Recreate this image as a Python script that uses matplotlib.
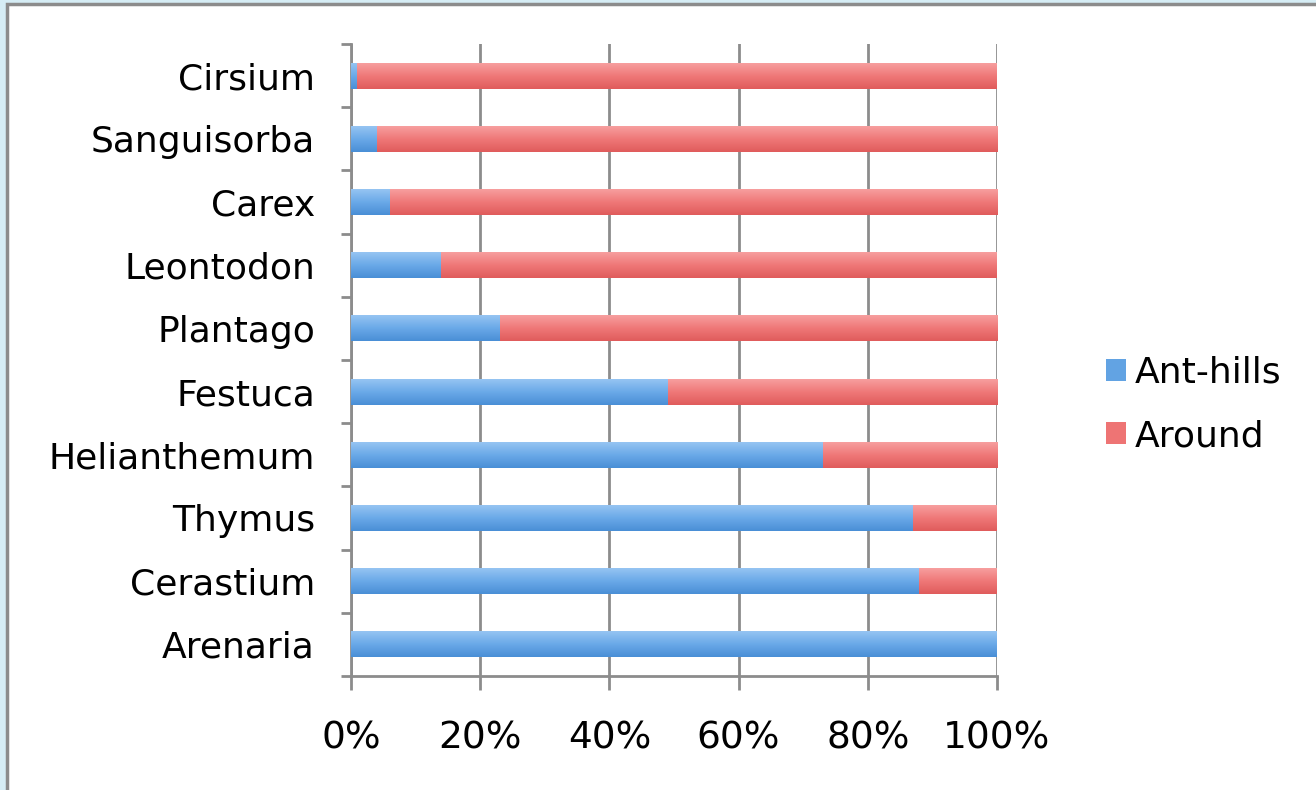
import matplotlib
matplotlib.use("Agg")
import matplotlib.pyplot as plt
from matplotlib.patches import Rectangle
from matplotlib.colors import LinearSegmentedColormap
import numpy as np

# Species, listed bottom to top
species = ["Arenaria", "Cerastium", "Thymus", "Helianthemum", "Festuca",
           "Plantago", "Leontodon", "Carex", "Sanguisorba", "Cirsium"]
ant_hills = [100, 88, 87, 73, 49, 23, 14, 6, 4, 1]
around = [0, 12, 13, 27, 51, 77, 86, 94, 96, 99]
x_ticks = [0, 20, 40, 60, 80, 100]
x_labels = ["0%", "20%", "40%", "60%", "80%", "100%"]

blue = "#62a3e3"
red = "#ee7474"
grey = "#8c8c8c"

plt.rcParams["font.family"] = ["DejaVu Sans"]

fig = plt.figure(figsize=(13.16, 7.9), dpi=100)
fig.patch.set_facecolor("#d6edf5")

# white panel with grey frame (top-left corner visible)
fig.patches.append(Rectangle((7 / 1316, -0.1), 1.2, 1 - 4 / 790 + 0.1,
                             transform=fig.transFigure, facecolor="white",
                             edgecolor=grey, linewidth=2.5, zorder=-10))

ax = fig.add_axes([351 / 1316, 1 - 676 / 790, 646 / 1316, 632 / 790])
ax.set_zorder(1)
ax.set_facecolor("white")

y = np.arange(len(species))
b1 = ax.barh(y, ant_hills, height=0.41, color=blue, label="Ant-hills", zorder=3)
b2 = ax.barh(y, around, left=ant_hills, height=0.41, color=red, label="Around", zorder=3)

# soft vertical gradient on the bars (light on top, darker at the bottom)
grad = np.linspace(0, 1, 50).reshape(-1, 1)
cm_blue = LinearSegmentedColormap.from_list("b", ["#4a8fd6", "#6aa9e8", "#95c4f2"])
cm_red = LinearSegmentedColormap.from_list("r", ["#e05c5c", "#ef7878", "#f79e9e"])
for bars, cm in [(b1, cm_blue), (b2, cm_red)]:
    for p in bars:
        if p.get_width() <= 0:
            continue
        x0, y0 = p.get_x(), p.get_y()
        im = ax.imshow(grad, cmap=cm, aspect="auto", origin="lower", zorder=3.5,
                       extent=(x0, x0 + p.get_width(), y0, y0 + p.get_height()))
        im.set_clip_path(p)

ax.set_xlim(0, 100)
ax.set_ylim(-0.5, len(species) - 0.5)

ax.set_xticks(x_ticks)
ax.set_xticklabels(x_labels)
ax.set_yticks(y)
ax.set_yticklabels(species)
ax.set_yticks(np.arange(-0.5, len(species), 1), minor=True)

ax.tick_params(axis="y", which="major", length=0, pad=26, labelsize=26)
ax.tick_params(axis="y", which="minor", length=7, width=2, color=grey, direction="out")
ax.tick_params(axis="x", length=10, width=2, color=grey, direction="out", pad=22, labelsize=27)

ax.grid(axis="x", color=grey, linewidth=2, zorder=0)
for s in ["top", "right"]:
    ax.spines[s].set_visible(False)
for s in ["left", "bottom"]:
    ax.spines[s].set_color(grey)
    ax.spines[s].set_linewidth(2)

ax.legend(loc="center left", bbox_to_anchor=(1.118, 0.43), frameon=False,
          fontsize=26, handlelength=0.55, handleheight=0.55, handletextpad=0.25,
          labelspacing=0.82)

fig.savefig("out.png", dpi=100, facecolor=fig.get_facecolor())
